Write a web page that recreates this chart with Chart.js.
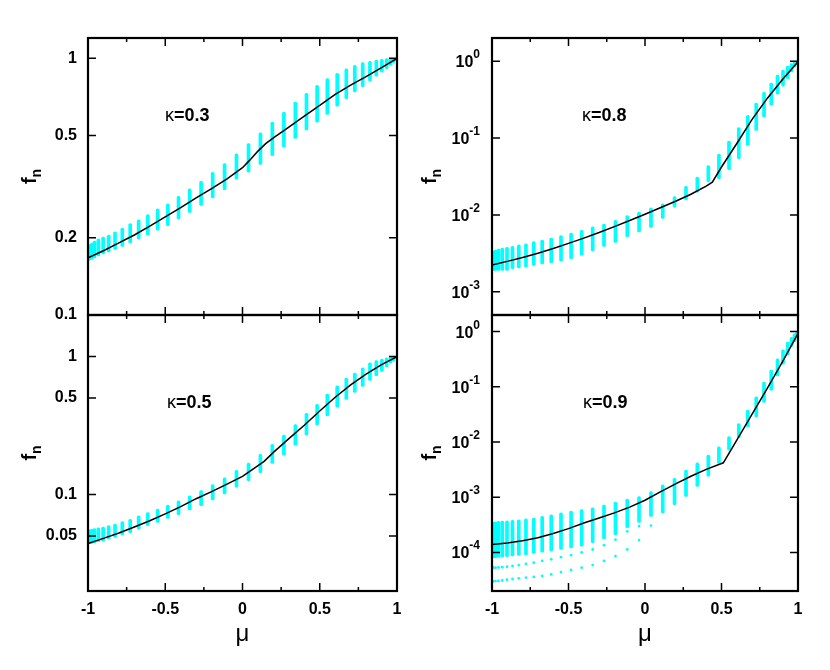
<!DOCTYPE html>
<html>
<head>
<meta charset="utf-8">
<script src="https://cdn.jsdelivr.net/npm/chart.js@4.4.1/dist/chart.umd.min.js"></script>
<style>
  html, body { margin: 0; padding: 0; background: #fff; }
  #wrap { position: relative; width: 830px; height: 670px; }
  #wrap canvas { position: absolute; left: 0; top: 0; }
</style>
</head>
<body>
<div id="wrap">
  <canvas id="c03" width="830" height="670"></canvas>
  <canvas id="c08" width="830" height="670"></canvas>
  <canvas id="c05" width="830" height="670"></canvas>
  <canvas id="c09" width="830" height="670"></canvas>
</div>
<script>
// angle nodes shared by all four panels
const mu = [-0.998, -0.991, -0.977, -0.958, -0.933, -0.902, -0.866, -0.825, -0.778, -0.727,
  -0.672, -0.613, -0.549, -0.483, -0.414, -0.342, -0.268, -0.193, -0.116, -0.039,
  0.039, 0.116, 0.193, 0.268, 0.342, 0.414, 0.483, 0.549, 0.613, 0.672,
  0.727, 0.778, 0.825, 0.866, 0.902, 0.933, 0.958, 0.977, 0.991, 0.998];

const xTicks = [-1, -0.5, 0, 0.5, 1];
const xTickLabels = ['-1', '-0.5', '0', '0.5', '1'];
const xMinor = [-0.75, -0.25, 0.25, 0.75];

// kappa = 0.3
const hi03 = [0.186, 0.188, 0.190, 0.194, 0.198, 0.201, 0.205, 0.211, 0.218, 0.227,
  0.235, 0.246, 0.259, 0.271, 0.290, 0.310, 0.332, 0.360, 0.389, 0.425,
  0.465, 0.513, 0.564, 0.617, 0.675, 0.730, 0.785, 0.833, 0.874, 0.911,
  0.939, 0.962, 0.973, 0.985, 0.991, 0.997, 1.0, 1.0, 1.0, 1.0];
const lo03 = [0.163, 0.164, 0.165, 0.167, 0.170, 0.173, 0.176, 0.180, 0.185, 0.191,
  0.198, 0.205, 0.214, 0.223, 0.237, 0.251, 0.267, 0.286, 0.308, 0.338,
  0.360, 0.386, 0.418, 0.452, 0.487, 0.526, 0.564, 0.604, 0.651, 0.696,
  0.739, 0.776, 0.815, 0.853, 0.884, 0.911, 0.939, 0.962, 0.980, 0.990];
const lineMu03 = [-1, -0.9, -0.8, -0.7, -0.6, -0.5, -0.4, -0.3, -0.2, -0.1, 0, 0.05, 0.1, 0.15, 0.2, 0.3, 0.4, 0.5, 0.6, 0.7, 0.8, 0.9, 1];
const line03 = [0.167, 0.178, 0.191, 0.205, 0.222, 0.241, 0.262, 0.286, 0.311, 0.339, 0.375, 0.403, 0.435, 0.465, 0.49, 0.54, 0.595, 0.656, 0.723, 0.786, 0.848, 0.92, 1.0];
const yTicks03 = [0.1, 0.2, 0.5, 1];
const yLabels03 = ['0.1', '0.2', '0.5', '1'];

// kappa = 0.5
const hi05 = [0.0553, 0.0555, 0.0560, 0.0566, 0.0573, 0.058, 0.0595, 0.061, 0.0637, 0.066,
  0.070, 0.074, 0.0786, 0.084, 0.090, 0.098, 0.107, 0.118, 0.132, 0.150,
  0.169, 0.196, 0.231, 0.270, 0.322, 0.388, 0.451, 0.534, 0.614, 0.699,
  0.760, 0.827, 0.900, 0.935, 0.960, 0.978, 0.995, 1.0, 1.0, 1.0];
const lo05 = [0.0439, 0.0440, 0.0443, 0.0448, 0.0455, 0.046, 0.0475, 0.0489, 0.051, 0.053,
  0.056, 0.0595, 0.0628, 0.067, 0.0716, 0.0775, 0.083, 0.0914, 0.101, 0.113,
  0.126, 0.144, 0.168, 0.193, 0.228, 0.270, 0.319, 0.371, 0.429, 0.490,
  0.549, 0.607, 0.671, 0.726, 0.781, 0.841, 0.900, 0.930, 0.970, 0.990];
const lineMu05 = [-1, -0.9, -0.8, -0.7, -0.6, -0.5, -0.4, -0.3, -0.2, -0.1, 0, 0.14, 0.2, 0.3, 0.4, 0.5, 0.6, 0.7, 0.8, 0.9, 1];
const line05 = [0.0441, 0.0481, 0.0527, 0.0582, 0.0646, 0.0724, 0.0817, 0.0933, 0.105, 0.119, 0.1355, 0.174, 0.202, 0.254, 0.318, 0.403, 0.507, 0.624, 0.745, 0.875, 1.0];
const yTicks05 = [0.05, 0.1, 0.5, 1];
const yLabels05 = ['0.05', '0.1', '0.5', '1'];

// kappa = 0.8
const hi08 = [0.0033, 0.0034, 0.0035, 0.0036, 0.0037, 0.0038, 0.0039, 0.0041, 0.0042, 0.0045,
  0.0047, 0.005, 0.0054, 0.0058, 0.0063, 0.007, 0.0076, 0.0085, 0.0098, 0.0109,
  0.0124, 0.014, 0.0173, 0.0235, 0.031, 0.044, 0.062, 0.0914, 0.137, 0.198,
  0.286, 0.394, 0.52, 0.66, 0.763, 0.86, 0.933, 0.98, 1.0, 1.0];
const lo08 = [0.0019, 0.0019, 0.0019, 0.0019, 0.0019, 0.0019, 0.002, 0.00205, 0.0021, 0.0022,
  0.0023, 0.0024, 0.0025, 0.0027, 0.003, 0.0034, 0.0039, 0.0044, 0.0052, 0.006,
  0.0069, 0.009, 0.0126, 0.0157, 0.0198, 0.027, 0.0297, 0.0387, 0.054, 0.08,
  0.126, 0.188, 0.267, 0.371, 0.472, 0.594, 0.725, 0.843, 0.92, 0.97];
const lineMu08 = [-1, -0.9, -0.8, -0.7, -0.6, -0.5, -0.4, -0.3, -0.2, -0.1, 0, 0.1, 0.2, 0.3, 0.4, 0.44, 0.5, 0.6, 0.7, 0.8, 0.9, 1];
const line08 = [0.00223, 0.00249, 0.0028, 0.00318, 0.00366, 0.00427, 0.005, 0.0059, 0.00705, 0.00847, 0.0102, 0.0124, 0.0151, 0.0186, 0.0237, 0.0267, 0.042, 0.085, 0.175, 0.33, 0.58, 0.98];
const yTicks08 = [1e-3, 1e-2, 1e-1, 1];
const yExp08 = ['-3', '-2', '-1', '0'];

// kappa = 0.9
const hi09 = [3.5e-4, 3.55e-4, 3.6e-4, 3.65e-4, 3.7e-4, 3.75e-4, 3.8e-4, 3.9e-4, 4.05e-4, 4.2e-4,
  4.5e-4, 4.8e-4, 5.2e-4, 5.6e-4, 6.0e-4, 6.4e-4, 7.2e-4, 8.2e-4, 9.3e-4, 1.03e-3,
  1.27e-3, 1.68e-3, 2.2e-3, 3.1e-3, 4.2e-3, 5.8e-3, 8.2e-3, 0.0125, 0.0215, 0.0377,
  0.066, 0.122, 0.2, 0.322, 0.468, 0.643, 0.79, 0.91, 0.97, 1.0];
const lo09 = [8.0e-5, 8.0e-5, 8.0e-5, 8.1e-5, 8.2e-5, 8.4e-5, 8.6e-5, 8.8e-5, 9.0e-5, 9.6e-5,
  1.01e-4, 1.06e-4, 1.13e-4, 1.21e-4, 1.3e-4, 1.5e-4, 1.75e-4, 2.1e-4, 2.8e-4, 3.5e-4,
  4.5e-4, 5.2e-4, 7.3e-4, 1.03e-3, 1.57e-3, 2.4e-3, 4.1e-3, 7.1e-3, 0.012, 0.019,
  0.0286, 0.052, 0.0865, 0.158, 0.256, 0.38, 0.54, 0.66, 0.79, 0.88];
const rowA09 = [5.3e-5, 5.3e-5, 5.3e-5, 5.35e-5, 5.4e-5, 5.5e-5, 5.7e-5, 5.9e-5, 6.2e-5, 6.5e-5,
  7.0e-5, 7.5e-5, 8.2e-5, 8.9e-5, 1.0e-4, 1.13e-4, 1.35e-4, 1.7e-4, 2.4e-4, 3.0e-4];
const rowB09 = [3.0e-5, 3.0e-5, 3.02e-5, 3.05e-5, 3.1e-5, 3.2e-5, 3.3e-5, 3.4e-5, 3.5e-5, 3.6e-5,
  3.75e-5, 4.0e-5, 4.4e-5, 4.8e-5, 5.3e-5, 5.9e-5, 7.0e-5, 8.6e-5, 1.13e-4, 1.67e-4, 3.06e-4];
const lineMu09 = [-1, -0.9, -0.8, -0.7, -0.6, -0.5, -0.4, -0.3, -0.2, -0.1, 0, 0.1, 0.2, 0.3, 0.4, 0.512, 0.6, 0.7, 0.8, 0.9, 1];
const line09 = [1.39e-4, 1.48e-4, 1.62e-4, 1.85e-4, 2.2e-4, 2.7e-4, 3.4e-4, 4.2e-4, 5.2e-4, 6.6e-4, 8.8e-4, 1.25e-3, 1.75e-3, 2.4e-3, 3.2e-3, 4.2e-3, 0.0108, 0.032, 0.095, 0.29, 0.93];
const yTicks09 = [1e-4, 1e-3, 1e-2, 1e-1, 1];
const yExp09 = ['-4', '-3', '-2', '-1', '0'];

const CYAN = '#00ffff';
const FONT = '"Liberation Sans", Arial, Helvetica, sans-serif';

function bars(hi, lo) {
  return mu.map((m, i) => ({ x: m, y: [lo[i], hi[i]] }));
}
function pts(xs, ys) {
  return ys.map((v, i) => ({ x: xs[i], y: v }));
}

// frame, inward ticks, tick labels and titles in gnuplot style
const panelDeco = {
  id: 'panelDeco',
  afterDraw(chart, args, o) {
    const { ctx, chartArea: a } = chart;
    const x = chart.scales.x, y = chart.scales.y;
    ctx.save();
    ctx.strokeStyle = '#000';
    ctx.lineWidth = 1.5;
    ctx.beginPath();
    xTicks.forEach(v => {
      const px = x.getPixelForValue(v);
      ctx.moveTo(px, a.bottom); ctx.lineTo(px, a.bottom - 8);
      ctx.moveTo(px, a.top); ctx.lineTo(px, a.top + 8);
    });
    xMinor.forEach(v => {
      const px = x.getPixelForValue(v);
      ctx.moveTo(px, a.bottom); ctx.lineTo(px, a.bottom - 4);
      ctx.moveTo(px, a.top); ctx.lineTo(px, a.top + 4);
    });
    o.yTicks.forEach(v => {
      const py = y.getPixelForValue(v);
      ctx.moveTo(a.left, py); ctx.lineTo(a.left + 8, py);
      ctx.moveTo(a.right, py); ctx.lineTo(a.right - 8, py);
    });
    ctx.stroke();
    ctx.lineWidth = 2.2;
    ctx.strokeRect(a.left, a.top, a.right - a.left, a.bottom - a.top);

    ctx.fillStyle = '#000';
    // y tick labels
    if (o.yLabels) {
      ctx.font = 'bold 16px ' + FONT;
      ctx.textAlign = 'right';
      ctx.textBaseline = 'middle';
      o.yTicks.forEach((v, i) => ctx.fillText(o.yLabels[i], a.left - 11, y.getPixelForValue(v)));
    } else {
      ctx.textAlign = 'left';
      ctx.textBaseline = 'alphabetic';
      o.yTicks.forEach((v, i) => {
        const py = y.getPixelForValue(v);
        ctx.font = 'bold 12px ' + FONT;
        const we = ctx.measureText(o.yExp[i]).width;
        ctx.font = 'bold 16px ' + FONT;
        const wb = ctx.measureText('10').width;
        const r = a.left - 12;
        ctx.fillText('10', r - we - wb, py + 6);
        ctx.font = 'bold 12px ' + FONT;
        ctx.fillText(o.yExp[i], r - we, py - 3);
      });
    }
    // x tick labels and title
    if (o.xLabels) {
      ctx.font = 'bold 16px ' + FONT;
      ctx.textAlign = 'center';
      ctx.textBaseline = 'alphabetic';
      xTicks.forEach((v, i) => ctx.fillText(xTickLabels[i], x.getPixelForValue(v), a.bottom + 23));
      ctx.font = '24px ' + FONT;
      ctx.fillText('\u03bc', (a.left + a.right) / 2, a.bottom + 50);
    }
    // y title f_n
    ctx.save();
    ctx.translate(o.titleX, (a.top + a.bottom) / 2);
    ctx.rotate(-Math.PI / 2);
    ctx.textAlign = 'left';
    ctx.textBaseline = 'alphabetic';
    ctx.font = 'bold 20px ' + FONT;
    const wf = ctx.measureText('f').width;
    ctx.font = 'bold 14px ' + FONT;
    const wn = ctx.measureText('n').width;
    ctx.font = 'bold 20px ' + FONT;
    ctx.fillText('f', -(wf + wn) / 2, 0);
    ctx.font = 'bold 14px ' + FONT;
    ctx.fillText('n', -(wf + wn) / 2 + wf, 5);
    ctx.restore();
    // kappa label
    ctx.textAlign = 'left';
    ctx.textBaseline = 'alphabetic';
    ctx.font = '18px ' + FONT;
    ctx.fillText('\u03ba', o.kx, o.ky);
    const wk = ctx.measureText('\u03ba').width;
    ctx.font = 'bold 18px ' + FONT;
    ctx.fillText('=' + o.kappa, o.kx + wk, o.ky);
    ctx.restore();
  }
};

function makePanel(id, p) {
  const datasets = [
    { type: 'line', data: pts(p.lineMu, p.line), borderColor: '#000', borderWidth: 1.5,
      pointRadius: 0, tension: 0, order: 0 }
  ];
  (p.dots || []).forEach(d => datasets.push({
    type: 'scatter', data: d, backgroundColor: CYAN, borderWidth: 0, pointRadius: 1.4, order: 1
  }));
  datasets.push({ type: 'bar', data: bars(p.hi, p.lo), backgroundColor: CYAN,
    barThickness: 3, borderRadius: 1.5, borderSkipped: false, order: 2 });

  return new Chart(document.getElementById(id), {
    type: 'bar',
    data: { datasets },
    options: {
      responsive: false,
      animation: false,
      events: [],
      layout: { padding: p.pad },
      plugins: {
        legend: { display: false },
        tooltip: { enabled: false },
        panelDeco: p.deco
      },
      scales: {
        x: { type: 'linear', min: -1, max: 1, offset: false, display: false },
        y: { type: 'logarithmic', min: p.yMin, max: p.yMax, display: false }
      }
    },
    plugins: [panelDeco]
  });
}

makePanel('c03', {
  hi: hi03, lo: lo03, lineMu: lineMu03, line: line03, yMin: 0.1, yMax: 1.2,
  pad: { left: 88, top: 38, right: 433, bottom: 355 },
  deco: { yTicks: yTicks03, yLabels: yLabels03, xLabels: false, titleX: 36, kx: 165, ky: 121, kappa: '0.3' }
});
makePanel('c08', {
  hi: hi08, lo: lo08, lineMu: lineMu08, line: line08, yMin: 5e-4, yMax: 2,
  pad: { left: 492, top: 38, right: 32, bottom: 355 },
  deco: { yTicks: yTicks08, yExp: yExp08, xLabels: false, titleX: 436, kx: 582, ky: 121, kappa: '0.8' }
});
makePanel('c05', {
  hi: hi05, lo: lo05, lineMu: lineMu05, line: line05, yMin: 0.02, yMax: 2,
  pad: { left: 88, top: 315, right: 433, bottom: 79 },
  deco: { yTicks: yTicks05, yLabels: yLabels05, xLabels: true, titleX: 36, kx: 167, ky: 408, kappa: '0.5' }
});
makePanel('c09', {
  hi: hi09, lo: lo09, lineMu: lineMu09, line: line09, yMin: 2e-5, yMax: 2,
  dots: [pts(mu, rowA09), pts(mu, rowB09)],
  pad: { left: 492, top: 315, right: 32, bottom: 79 },
  deco: { yTicks: yTicks09, yExp: yExp09, xLabels: true, titleX: 436, kx: 583, ky: 408, kappa: '0.9' }
});
</script>
</body>
</html>
